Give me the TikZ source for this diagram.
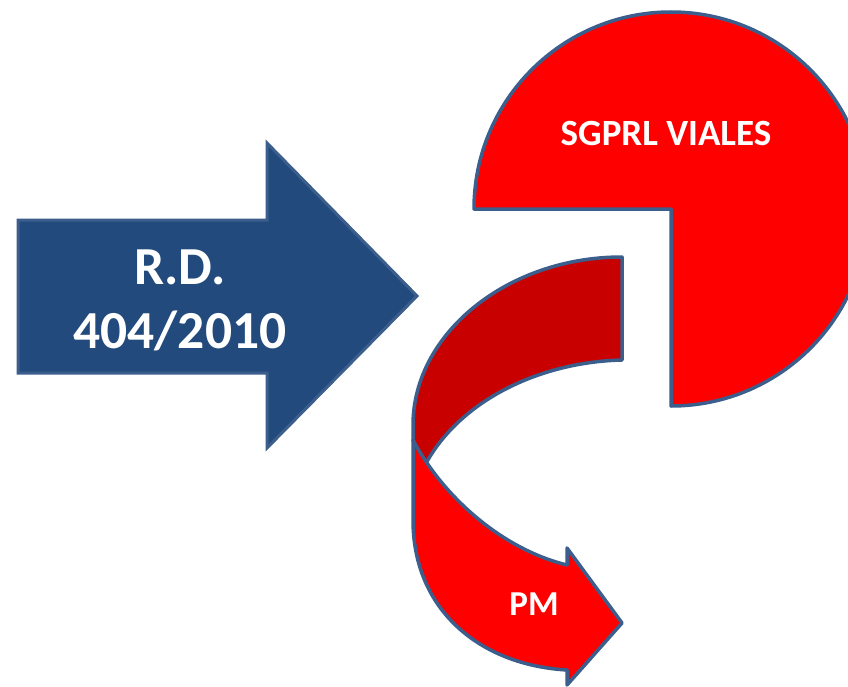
\documentclass[tikz,border=0pt]{standalone}
\usepackage{fontspec}
\setmainfont{Carlito}
\definecolor{bluefill}{HTML}{224A7D}
\definecolor{edgeblue}{HTML}{3B5E8C}
\definecolor{darkred}{HTML}{C80000}
\definecolor{brightred}{HTML}{FF0000}
\tikzset{
  bluearrow/.style={fill=bluefill, draw=edgeblue, line width=3pt, line join=miter},
  redshape/.style={fill=brightred, draw=edgeblue, line width=3.5pt, line join=round},
  backband/.style={fill=darkred, draw=edgeblue, line width=3.5pt, line join=round},
  label/.style={text=white, font=\bfseries, align=center, inner sep=0pt}
}
\begin{document}
\begin{tikzpicture}[x=1pt, y=-1pt]
\useasboundingbox (0,0) rectangle (848,687);
% blue arrow
\draw[bluearrow] (18,220) -- (267,220) -- (267,143) -- (417,296) -- (267,448) -- (267,373) -- (18,373) -- cycle;
\node[label, font=\bfseries\fontsize{53.5}{64}\selectfont] (rd) at (180,300) {R.D.\\404/2010};
% pie
\draw[redshape] (671,209) -- (671,406) arc[start angle=90, end angle=-180, radius=197] -- cycle;
\node[label, font=\bfseries\fontsize{37}{44}\selectfont] (sg) at (666,133) {SGPRL VIALES};
% back band of curved arrow
\draw[backband] (622,257) .. controls (507,257) and (413,334) .. (413,425) -- (413,440)
  .. controls (418,452) and (421,459) .. (425,465)
  .. controls (460,400) and (540,362) .. (622,360) -- cycle;
% front band with head
\draw[redshape] (413,440) -- (413,520) .. controls (413,610) and (480,665) .. (567,670)
  -- (567,685) -- (622,623) -- (567,548) -- (567,565)
  .. controls (505,550) and (445,500) .. (413,440) -- cycle;
\node[label, font=\bfseries\fontsize{35}{42}\selectfont] (pm) at (534,604) {PM};
\end{tikzpicture}
\end{document}
